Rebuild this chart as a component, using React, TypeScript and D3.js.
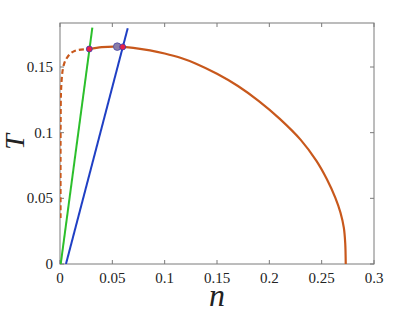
import React from "react";
import * as d3 from "d3";

const xTicks = [0, 0.05, 0.1, 0.15, 0.2, 0.25, 0.3];
const yTicks = [0, 0.05, 0.1, 0.15];

// dashed (unstable) branch: [n, T]
const dashedN = [0.0005, 0.0005, 0.0006, 0.0009, 0.0016, 0.0026, 0.0042, 0.0064, 0.0092, 0.0127, 0.0175, 0.028];
const dashedT = [0.035, 0.08, 0.11, 0.13, 0.1405, 0.1478, 0.1532, 0.1567, 0.1597, 0.1617, 0.163, 0.1637];

// solid branch
const solidN = [0.028, 0.04, 0.0547, 0.0599, 0.07, 0.086, 0.1, 0.115, 0.13, 0.15, 0.17, 0.19, 0.21, 0.23, 0.245, 0.255, 0.263, 0.268, 0.2712, 0.2725, 0.273];
const solidT = [0.1637, 0.1652, 0.1655, 0.1653, 0.1646, 0.1627, 0.1603, 0.157, 0.1525, 0.1448, 0.1355, 0.124, 0.1105, 0.0945, 0.0785, 0.0645, 0.0505, 0.039, 0.0275, 0.016, 0.0];

const greenN = [0.0007, 0.0309];
const greenT = [0, 0.18];
const blueN = [0.0057, 0.0647];
const blueT = [0, 0.1795];

const redPtsN = [0.028, 0.0599];
const redPtsT = [0.1637, 0.1653];
const grayPtN = [0.0547];
const grayPtT = [0.1655];

export default function App() {
  const W = 415, H = 313;
  const left = 60, right = 374, top = 23, bottom = 264;
  const x = d3.scaleLinear().domain([0, 0.3]).range([left, right]);
  const y = d3.scaleLinear().domain([0, 0.15]).range([bottom, 67]);
  const line = d3.line<[number, number]>().x(d => x(d[0])).y(d => y(d[1])).curve(d3.curveCatmullRom.alpha(0.5));
  const dashedPts = dashedN.map((n, i) => [n, dashedT[i]] as [number, number]);
  const solidPts = solidN.map((n, i) => [n, solidT[i]] as [number, number]);
  const axisColor = "#7a7a7a";
  const font = "Liberation Serif, Times New Roman, serif";
  return (
    <svg width={W} height={H} style={{ position: "absolute", left: 0, top: 0, background: "#fff" }}>
      <defs>
        <clipPath id="clip">
          <rect x={left} y={top} width={right - left} height={bottom - top} />
        </clipPath>
      </defs>
      <rect x={left} y={top} width={right - left} height={bottom - top} fill="none" stroke={axisColor} strokeWidth={1} />
      {xTicks.map(t => (
        <g key={"x" + t}>
          <line x1={x(t)} x2={x(t)} y1={bottom} y2={bottom - 4} stroke={axisColor} />
          <line x1={x(t)} x2={x(t)} y1={top} y2={top + 4} stroke={axisColor} />
          <text x={x(t)} y={283} textAnchor="middle" fontFamily={font} fontSize={15} fill="#222">{String(t)}</text>
        </g>
      ))}
      {yTicks.map(t => (
        <g key={"y" + t}>
          <line x1={left} x2={left + 4} y1={y(t)} y2={y(t)} stroke={axisColor} />
          <line x1={right} x2={right - 4} y1={y(t)} y2={y(t)} stroke={axisColor} />
          <text x={53} y={y(t) + 5} textAnchor="end" fontFamily={font} fontSize={15} fill="#222">{String(t)}</text>
        </g>
      ))}
      <text x={217} y={306} textAnchor="middle" fontFamily={font} fontStyle="italic" fontSize={32} fill="#222">n</text>
      <text transform="translate(24,142) rotate(-90)" textAnchor="middle" fontFamily={font} fontStyle="italic" fontSize={28} fill="#222">T</text>
      <g clipPath="url(#clip)">
        <path d={line([[greenN[0], greenT[0]], [greenN[1], greenT[1]]]) || ""} fill="none" stroke="#2cbf2c" strokeWidth={2} />
        <path d={line([[blueN[0], blueT[0]], [blueN[1], blueT[1]]]) || ""} fill="none" stroke="#1f3fc4" strokeWidth={2} />
        <path d={line(dashedPts) || ""} fill="none" stroke="#c8581c" strokeWidth={2.2} strokeDasharray="5,3" />
        <path d={line(solidPts) || ""} fill="none" stroke="#c8581c" strokeWidth={2.2} />
      </g>
      {grayPtN.map((n, i) => (
        <circle key={"g" + i} cx={x(n)} cy={y(grayPtT[i])} r={3.8} fill="#8a7ea8" stroke="#4a4aa8" strokeWidth={0.8} />
      ))}
      {redPtsN.map((n, i) => (
        <circle key={"r" + i} cx={x(n)} cy={y(redPtsT[i])} r={3} fill="#e8204a" stroke="#3a3ab0" strokeWidth={0.8} />
      ))}
    </svg>
  );
}
